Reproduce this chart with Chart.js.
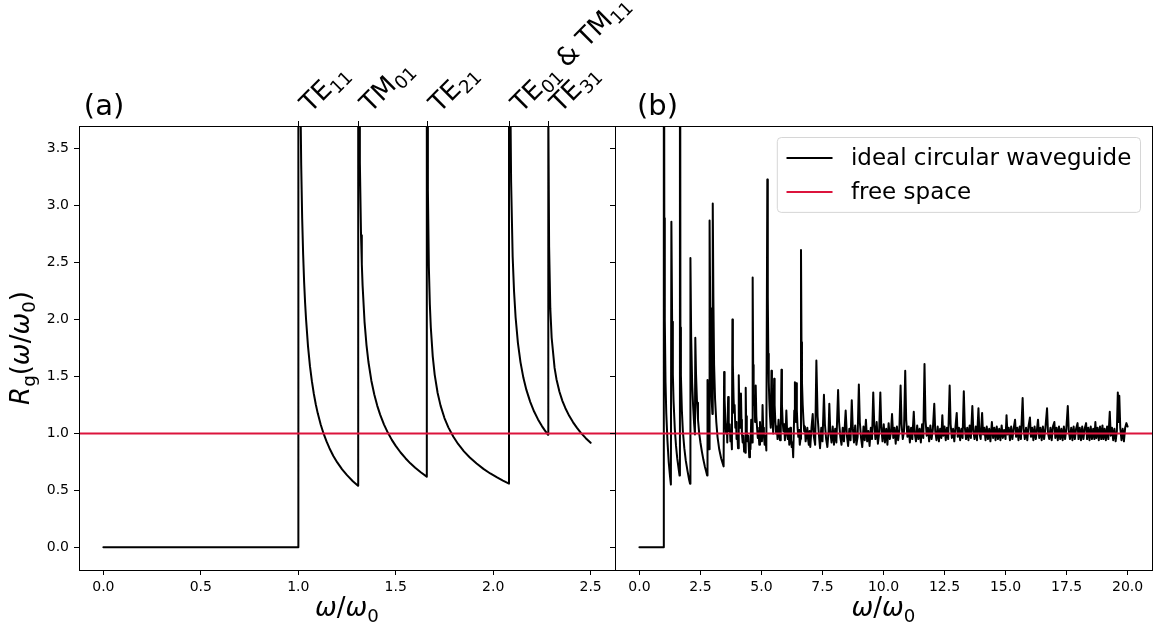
<!DOCTYPE html>
<html><head><meta charset="utf-8">
<script src="https://cdn.jsdelivr.net/npm/chart.js@4/dist/chart.umd.min.js"></script>
<style>
html,body{margin:0;padding:0;background:#fff;}
#wrap{position:relative;width:1156px;height:631px;background:#fff;}
canvas{position:absolute;left:0;top:0;}
</style></head><body>
<div id="wrap"><canvas id="ca" width="1156" height="631"></canvas><canvas id="cb" width="1156" height="631"></canvas></div>
<script>
// ---------- data ----------
const yTicks = [0.0, 0.5, 1.0, 1.5, 2.0, 2.5, 3.0, 3.5];
const xTicksA = [0.0, 0.5, 1.0, 1.5, 2.0, 2.5];
const xTicksB = [0.0, 2.5, 5.0, 7.5, 10.0, 12.5, 15.0, 17.5, 20.0];
const modeCutoffs = [1.0, 1.3065, 1.659, 2.081, 2.283];
const modeLabels = [["TE","11"], ["TM","01"], ["TE","21"], ["TE","01"," & TM","11"], ["TE","31"]];
const seriesNames = ["ideal circular waveguide", "free space"];

// panel (a): ideal circular waveguide, piecewise per mode cutoff
const aBelowCutoff = [[0,0],[1.0,0]];
const aTE11 = [[1.0005,18.7],[1.005,5.89],[1.01,4.14],[1.015,3.36],[1.02,2.89],[1.025,2.571],[1.03,2.33],[1.035,2.147],[1.04,2.00],[1.05,1.764],[1.06,1.59],[1.07,1.456],[1.08,1.346],[1.09,1.254],[1.10,1.176],[1.115,1.078],[1.13,0.997],[1.145,0.929],[1.16,0.870],[1.18,0.802],[1.20,0.745],[1.225,0.684],[1.25,0.633],[1.28,0.580],[1.3065,0.540]];
const aTM01 = [[1.307,12.9],[1.308,7.74],[1.312,4.29],[1.316,3.38],[1.322,2.74],[1.326,2.487],[1.33,2.30],[1.34,1.98],[1.35,1.776],[1.36,1.627],[1.375,1.463],[1.39,1.341],[1.405,1.244],[1.42,1.165],[1.44,1.077],[1.46,1.005],[1.48,0.943],[1.50,0.890],[1.525,0.832],[1.55,0.782],[1.575,0.737],[1.60,0.698],[1.63,0.656],[1.659,0.620]];
const aTE21 = [[1.6595,9.4],[1.661,5.01],[1.665,3.14],[1.67,2.46],[1.675,2.134],[1.68,1.93],[1.69,1.674],[1.70,1.514],[1.715,1.355],[1.73,1.244],[1.75,1.135],[1.77,1.053],[1.795,0.972],[1.82,0.907],[1.85,0.842],[1.88,0.788],[1.915,0.735],[1.95,0.688],[1.985,0.648],[2.02,0.613],[2.05,0.585],[2.0811,0.559]];
const aTE01 = [[2.0815,14.6],[2.083,6.97],[2.087,4.18],[2.092,3.21],[2.10,2.55],[2.107,2.248],[2.115,2.02],[2.127,1.793],[2.14,1.626],[2.155,1.488],[2.17,1.384],[2.19,1.277],[2.21,1.192],[2.23,1.123],[2.25,1.064],[2.265,1.026],[2.2817,0.987]];
const aTE31 = [[2.2821,7.1],[2.2835,3.86],[2.287,2.64],[2.293,2.10],[2.30,1.84],[2.315,1.575],[2.325,1.474],[2.34,1.366],[2.355,1.286],[2.37,1.223],[2.39,1.154],[2.41,1.097],[2.43,1.048],[2.45,1.005],[2.475,0.958],[2.50,0.917]];
const freeA = [[-0.125,1],[2.625,1]];

// panel (b): ideal circular waveguide up to 20
const bLow = [[0,0],[0.99,0],[1.0,8],[1.02,2.89],[1.04,2.0],[1.07,1.45],[1.1,1.18],[1.15,0.93],[1.2,0.75],[1.25,0.63],[1.29,0.55],[1.31,2.86],[1.34,1.98],[1.37,1.52],[1.4,1.28],[1.45,1.04],[1.5,0.89],[1.55,0.78],[1.6,0.7],[1.645,0.63],[1.66,8],[1.68,1.93],[1.7,1.51],[1.74,1.2],[1.78,1.02],[1.84,0.87],[1.9,0.76],[1.97,0.67],[2.03,0.6],[2.075,0.557],[2.09,2.54],[2.12,1.85],[2.16,1.45],[2.2,1.24],[2.24,1.09],[2.275,0.99],[2.29,1.84],[2.32,1.52],[2.36,1.27],[2.4,1.12],[2.45,1.0],[2.5,0.92],[2.56,0.84],[2.62,0.77],[2.68,0.71],[2.73,0.67],[2.775,0.63],[2.79,1.47],[2.82,1.1],[2.86,0.86],[2.875,2.87],[2.9,2.1],[2.93,1.55],[2.96,1.3],[2.99,1.17],[3.005,3.02],[3.03,2.2],[3.06,1.6],[3.1,1.3],[3.15,1.1],[3.2,0.97],[3.27,0.86],[3.35,0.78],[3.45,0.71]];
const bMid = [[3.47,1.54],[3.49,1.3],[3.52,1.12],[3.55,1.0],[3.58,1.08],[3.6,0.92],[3.635,1.32],[3.66,1.1],[3.68,1.02],[3.7,1.08],[3.73,0.93],[3.76,0.98],[3.79,0.86],[3.81,2.0],[3.83,1.6],[3.86,1.3],[3.88,1.18],[3.9,1.25],[3.93,1.05],[3.96,1.1],[3.98,0.95],[4.01,1.0],[4.04,0.87],[4.07,1.51],[4.09,1.25],[4.11,1.1],[4.13,1.05],[4.16,1.35],[4.18,1.12],[4.2,1.0],[4.23,0.92],[4.26,0.98],[4.29,0.84],[4.32,0.9],[4.34,0.83],[4.355,1.40],[4.37,1.15],[4.4,1.02],[4.43,0.93],[4.46,0.98],[4.5,0.79],[4.53,0.9],[4.55,0.86],[4.58,1.12],[4.6,0.95],[4.62,0.92],[4.64,2.37],[4.66,1.6],[4.68,1.35],[4.7,1.25],[4.72,1.3],[4.74,1.1],[4.765,1.42],[4.79,1.15],[4.82,1.05],[4.85,0.96],[4.88,1.02],[4.91,0.9],[4.94,1.1],[4.97,0.98],[5.0,1.05],[5.02,0.93],[5.045,1.25],[5.07,1.05],[5.1,0.98],[5.13,0.9],[5.16,0.98],[5.2,0.85],[5.24,3.23],[5.26,2.2],[5.28,1.7],[5.3,1.45],[5.32,1.3],[5.35,1.15],[5.38,1.05],[5.41,1.55],[5.43,1.25],[5.46,1.1],[5.48,1.0],[5.52,1.48],[5.54,1.25],[5.57,1.1],[5.6,1.0],[5.63,1.06],[5.66,0.95],[5.7,1.12],[5.73,1.0],[5.76,0.94],[5.79,1.0],[5.82,1.56],[5.84,1.25],[5.87,1.1],[5.9,1.02],[5.93,1.08],[5.96,0.94],[5.99,1.0],[6.02,1.2],[6.05,1.02],[6.08,0.95],[6.11,1.04],[6.14,0.9],[6.18,1.05],[6.21,0.95],[6.24,0.88],[6.27,0.92],[6.3,0.79],[6.345,1.2],[6.37,1.45],[6.39,1.2],[6.41,1.1],[6.43,1.44],[6.45,1.2],[6.48,1.05],[6.51,0.97],[6.54,1.03],[6.57,0.9],[6.6,0.95],[6.62,2.61],[6.64,1.8],[6.66,1.45],[6.69,1.25],[6.72,1.12],[6.75,1.02],[6.78,1.06],[6.81,0.93],[6.84,0.98],[6.88,1.05],[6.91,0.95],[6.94,0.9],[6.97,1.02]];
const bHigh = [[7.00,0.88],[7.05,1.05],[7.10,1.17],[7.14,0.98],[7.20,0.90],[7.25,1.64],[7.30,1.15],[7.35,1.00],[7.40,0.87],[7.45,1.05],[7.50,0.93],[7.56,1.34],[7.60,1.08],[7.65,0.95],[7.70,0.88],[7.75,1.02],[7.78,1.26],[7.82,1.02],[7.87,0.92],[7.92,1.06],[7.97,0.90],[8.02,1.04],[8.07,0.92],[8.14,1.38],[8.18,1.10],[8.23,0.97],[8.28,0.90],[8.33,1.05],[8.38,0.93],[8.45,1.20],[8.50,0.98],[8.55,0.89],[8.60,1.04],[8.65,0.94],[8.70,1.29],[8.74,1.05],[8.79,0.92],[8.84,1.07],[8.89,0.90],[8.94,0.97],[8.99,1.43],[9.03,1.10],[9.08,0.96],[9.13,0.88],[9.18,1.06],[9.23,0.94],[9.28,1.12],[9.33,0.93],[9.38,1.02],[9.43,0.89],[9.48,1.05],[9.53,0.95],[9.58,1.36],[9.62,1.08],[9.67,0.95],[9.72,1.10],[9.77,0.91],[9.82,1.00],[9.87,1.36],[9.91,1.05],[9.96,0.93],[10.01,1.08],[10.06,0.92],[10.11,1.04],[10.16,0.90],[10.21,1.09],[10.26,0.95],[10.31,1.02],[10.35,1.17],[10.40,0.96],[10.45,1.05],[10.50,0.91],[10.55,1.06],[10.60,0.94],[10.65,1.03],[10.70,1.42],[10.74,1.08],[10.79,0.95],[10.84,1.02],[10.89,1.55],[10.93,1.12],[10.98,0.97],[11.03,1.06],[11.08,0.92],[11.13,1.05],[11.18,0.95],[11.24,1.19],[11.28,1.00],[11.33,0.93],[11.38,1.07],[11.43,0.95],[11.48,1.04],[11.53,0.92],[11.58,1.08],[11.63,0.96],[11.68,1.61],[11.72,1.12],[11.77,0.98],[11.82,1.05],[11.87,0.93],[11.92,1.07],[11.97,0.95],[12.02,1.03],[12.08,1.26],[12.12,1.02],[12.17,0.94],[12.22,1.06],[12.27,0.93],[12.32,1.04],[12.37,0.96],[12.41,1.16],[12.45,0.98],[12.50,1.06],[12.55,0.94],[12.60,1.05],[12.65,0.95],[12.71,1.42],[12.75,1.08],[12.80,0.96],[12.85,1.04],[12.90,0.93],[12.95,1.06],[13.00,1.18],[13.04,0.97],[13.09,1.05],[13.14,0.94],[13.19,1.04],[13.24,0.96],[13.29,1.37],[13.33,1.06],[13.38,0.95],[13.43,1.05],[13.48,0.94],[13.53,1.07],[13.58,0.96],[13.64,1.24],[13.68,1.02],[13.73,0.95],[13.78,1.06],[13.83,0.94],[13.89,1.22],[13.93,1.00],[13.98,0.95],[14.04,1.18],[14.08,0.99],[14.13,1.05],[14.18,0.94],[14.23,1.06],[14.28,0.95],[14.33,1.04],[14.38,0.93],[14.44,1.10],[14.49,0.96],[14.54,1.05],[14.59,0.94],[14.64,1.06],[14.69,0.95],[14.74,1.04],[14.79,0.94],[14.84,1.07],[14.89,0.96],[14.94,1.03],[15.00,0.95],[15.04,1.16],[15.08,0.99],[15.13,1.05],[15.18,0.94],[15.23,1.06],[15.28,0.95],[15.33,1.04],[15.39,1.12],[15.43,0.97],[15.48,1.05],[15.53,0.94],[15.58,1.06],[15.63,0.95],[15.70,1.31],[15.74,1.04],[15.79,0.95],[15.84,1.05],[15.89,0.94],[15.94,1.06],[16.00,1.14],[16.04,0.97],[16.09,1.05],[16.14,0.94],[16.19,1.06],[16.24,0.95],[16.29,1.04],[16.33,1.12],[16.38,0.96],[16.43,1.05],[16.48,0.94],[16.53,1.06],[16.58,0.95],[16.63,1.04],[16.70,1.22],[16.74,1.00],[16.79,0.95],[16.84,1.05],[16.89,0.94],[16.94,1.06],[17.00,1.10],[17.04,0.96],[17.09,1.05],[17.14,0.94],[17.19,1.06],[17.24,0.95],[17.29,1.04],[17.34,0.94],[17.39,1.06],[17.44,0.95],[17.49,1.04],[17.55,1.24],[17.59,1.02],[17.64,0.95],[17.69,1.05],[17.74,0.94],[17.79,1.06],[17.84,0.95],[17.89,1.04],[17.95,1.09],[17.99,0.95],[18.04,1.05],[18.09,0.94],[18.14,1.06],[18.19,0.95],[18.24,1.04],[18.30,1.09],[18.34,0.95],[18.39,1.05],[18.44,0.94],[18.49,1.06],[18.54,0.95],[18.59,1.04],[18.64,0.95],[18.68,1.10],[18.72,0.96],[18.77,1.05],[18.82,0.94],[18.87,1.06],[18.92,0.95],[18.97,1.07],[19.01,0.95],[19.06,1.04],[19.11,0.94],[19.16,1.06],[19.21,0.95],[19.27,1.19],[19.31,0.98],[19.36,1.05],[19.41,0.94],[19.46,1.04],[19.51,0.93],[19.56,1.02],[19.60,1.36],[19.63,1.10],[19.66,1.33],[19.70,1.05],[19.75,0.94],[19.80,1.04],[19.85,0.93],[19.90,1.05],[19.95,1.09],[20.00,1.06]];
const freeB = [[-1,1],[21,1]];

// ---------- rendering ----------
const FONT = "'DejaVu Sans', 'Liberation Sans', sans-serif";
const BLACK = '#000000', RED = '#dc143c';
const toXY = arr => arr.map(p => ({x: p[0], y: p[1]}));

function drawRich(ctx, parts, x, y, size, align) {
  const ws = parts.map(p => { ctx.font = (p.it ? 'italic ' : '') + (p.sub ? size*0.7 : size) + 'px ' + FONT; return ctx.measureText(p.t).width; });
  const total = ws.reduce((a,b)=>a+b,0);
  let cx = align === 'center' ? x - total/2 : x;
  ctx.textAlign = 'left'; ctx.textBaseline = 'alphabetic';
  parts.forEach((p,i) => {
    ctx.font = (p.it ? 'italic ' : '') + (p.sub ? size*0.7 : size) + 'px ' + FONT;
    ctx.fillText(p.t, cx, y + (p.sub ? size*0.22 : 0));
    cx += ws[i];
  });
  return total;
}
const xLabelParts = [{t:'ω',it:1},{t:'/'},{t:'ω',it:1},{t:'0',sub:1}];
const yLabelParts = [{t:'R',it:1},{t:'g',sub:1},{t:'('},{t:'ω',it:1},{t:'/'},{t:'ω',it:1},{t:'0',sub:1},{t:')'}];

function spines(ctx, ca) {
  ctx.strokeStyle = BLACK; ctx.lineWidth = 1;
  ctx.strokeRect(ca.left + 0.5, ca.top + 0.5, ca.right - ca.left, ca.bottom - ca.top);
}

const decorA = {
  id: 'decorA',
  afterDraw(chart) {
    const {ctx, chartArea: ca, scales: {x, y}} = chart;
    ctx.save();
    spines(ctx, ca);
    // top tick marks and mode labels
    ctx.fillStyle = BLACK; ctx.strokeStyle = BLACK; ctx.lineWidth = 1;
    modeCutoffs.forEach((c, i) => {
      const px = Math.round(x.getPixelForValue(c)) + 0.5;
      ctx.beginPath(); ctx.moveTo(px, ca.top); ctx.lineTo(px, ca.top - 5); ctx.stroke();
      const parts = modeLabels[i].map((t, k) => ({t, sub: k % 2 === 1}));
      ctx.save();
      ctx.translate(px + 12, y.getPixelForValue(3.8) - 1);
      ctx.rotate(-Math.PI/4);
      drawRich(ctx, parts, 0, 0, 26, 'left');
      ctx.restore();
    });
    // panel letter
    ctx.font = '29px ' + FONT; ctx.textAlign = 'left'; ctx.textBaseline = 'alphabetic';
    ctx.fillText('(a)', x.getPixelForValue(-0.1), y.getPixelForValue(3.8));
    // x label
    drawRich(ctx, xLabelParts, (ca.left + ca.right)/2, 616, 26, 'center');
    // y label
    ctx.save();
    ctx.translate(29, (ca.top + ca.bottom)/2);
    ctx.rotate(-Math.PI/2);
    drawRich(ctx, yLabelParts, 0, 0, 26, 'center');
    ctx.restore();
    ctx.restore();
  }
};

const decorB = {
  id: 'decorB',
  afterDraw(chart) {
    const {ctx, chartArea: ca, scales: {x, y}} = chart;
    ctx.save();
    spines(ctx, ca);
    ctx.fillStyle = BLACK;
    ctx.font = '29px ' + FONT; ctx.textAlign = 'left'; ctx.textBaseline = 'alphabetic';
    ctx.fillText('(b)', x.getPixelForValue(-0.1), y.getPixelForValue(3.8));
    drawRich(ctx, xLabelParts, (ca.left + ca.right)/2, 616, 26, 'center');
    // legend (upper right)
    const fs = 23;
    ctx.font = fs + 'px ' + FONT;
    const ds = chart.data.datasets;
    const tw = Math.max(...ds.map(d => ctx.measureText(d.label).width));
    const pad = 0.4*fs, hl = 2*fs, htp = 0.8*fs, rowH = 22.5, sp = 0.5*fs;
    const w = pad + hl + htp + tw + pad;
    const h = pad*2 + rowH*ds.length + sp*(ds.length-1);
    const right = ca.right - 0.5*fs, top = ca.top + 0.5*fs, left = right - w;
    ctx.beginPath();
    if (ctx.roundRect) ctx.roundRect(left, top, w, h, 4); else ctx.rect(left, top, w, h);
    ctx.fillStyle = 'rgba(255,255,255,0.8)'; ctx.fill();
    ctx.strokeStyle = 'rgba(204,204,204,0.8)'; ctx.lineWidth = 1; ctx.stroke();
    ds.forEach((d, i) => {
      const cy = top + pad + rowH/2 + i*(rowH + sp);
      ctx.strokeStyle = d.borderColor; ctx.lineWidth = 2;
      ctx.beginPath(); ctx.moveTo(left + pad, cy); ctx.lineTo(left + pad + hl, cy); ctx.stroke();
      ctx.fillStyle = BLACK; ctx.font = fs + 'px ' + FONT;
      ctx.textAlign = 'left'; ctx.textBaseline = 'middle';
      ctx.fillText(d.label, left + pad + hl + htp, cy + 1);
    });
    ctx.restore();
  }
};

function setTicks(arr) { return scale => { scale.ticks = arr.map(v => ({value: v})); }; }
const tickFont = {family: FONT, size: 14};

function makeChart(id, waveData, freeData, xMin, xMax, xTicks, withYLabels, padding, plugin) {
  return new Chart(document.getElementById(id), {
    type: 'scatter',
    data: { datasets: [
      { label: seriesNames[0], data: toXY(waveData), showLine: true, borderColor: BLACK, backgroundColor: BLACK,
        borderWidth: 2, pointRadius: 0, tension: 0, borderJoinStyle: 'round', borderCapStyle: 'round', order: 1 },
      { label: seriesNames[1], data: toXY(freeData), showLine: true, borderColor: RED, backgroundColor: RED,
        borderWidth: 2, pointRadius: 0, tension: 0, order: 0 }
    ]},
    options: {
      responsive: false, animation: false, devicePixelRatio: 1,
      layout: { padding: padding, autoPadding: false },
      plugins: { legend: {display: false}, tooltip: {enabled: false}, title: {display: false} },
      events: [],
      scales: {
        x: { type: 'linear', min: xMin, max: xMax, afterBuildTicks: setTicks(xTicks),
             afterFit: s => { s.height = 61; },
             ticks: { autoSkip: false, maxRotation: 0, minRotation: 0, padding: 4, color: BLACK, font: tickFont,
                      callback: v => Number(v).toFixed(1) },
             grid: { drawOnChartArea: false, drawTicks: true, tickLength: 5, tickColor: BLACK, tickWidth: 1 },
             border: { display: true, color: BLACK, width: 1 } },
        y: { type: 'linear', min: -0.2, max: 3.7, afterBuildTicks: setTicks(yTicks),
             afterFit: s => { s.width = withYLabels ? 79 : 5; },
             ticks: { display: withYLabels, autoSkip: false, padding: 5, color: BLACK, font: tickFont,
                      callback: v => Number(v).toFixed(1) },
             grid: { drawOnChartArea: false, drawTicks: true, tickLength: 5, tickColor: BLACK, tickWidth: 1 },
             border: { display: true, color: BLACK, width: 1 } }
      }
    },
    plugins: [plugin]
  });
}

const waveA = [...aBelowCutoff, ...aTE11, ...aTM01, ...aTE21, ...aTE01, ...aTE31];
const waveB = [...bLow, ...bMid, ...bHigh];
makeChart('ca', waveA, freeA, -0.125, 2.625, xTicksA, true, {left: 0, right: 541, top: 126, bottom: 0}, decorA);
makeChart('cb', waveB, freeB, -1, 21, xTicksB, false, {left: 610, right: 4, top: 126, bottom: 0}, decorB);
</script>
</body></html>
